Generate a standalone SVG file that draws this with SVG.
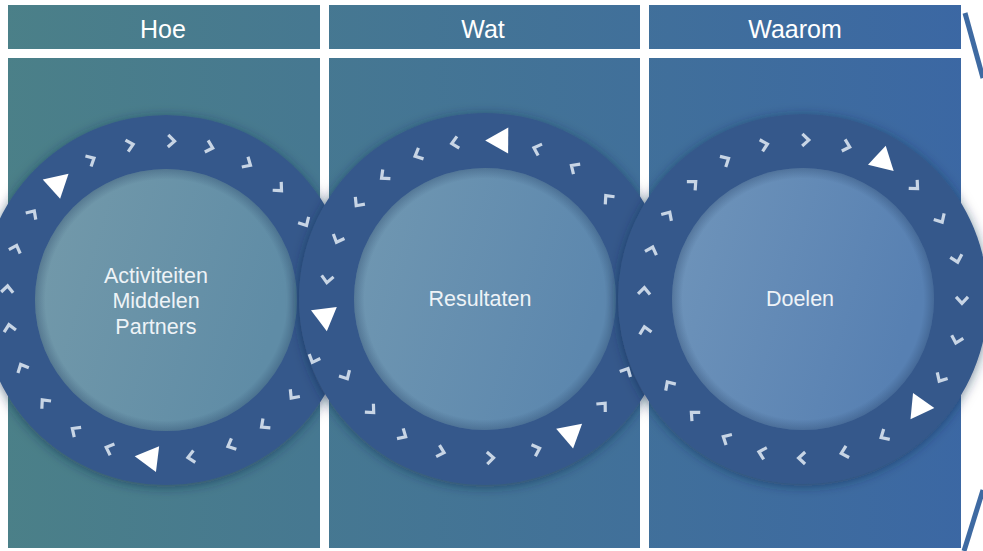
<svg xmlns="http://www.w3.org/2000/svg" xmlns:xlink="http://www.w3.org/1999/xlink" width="983" height="551" viewBox="0 0 983 551">
<defs>
<style>
.hdr{font-family:"Liberation Sans",Arial,sans-serif;font-size:25px;fill:#ffffff;text-anchor:middle}
.lbl{font-family:"Liberation Sans",Arial,sans-serif;font-size:21.5px;fill:#eef3f7;text-anchor:middle}
.ring{fill:#35598b;filter:url(#sh)}
.shade{fill:url(#inset)}
.br{stroke:#3e6aa2;stroke-width:5;fill:none}
</style>
<linearGradient id="bg" gradientUnits="userSpaceOnUse" x1="0" y1="0" x2="983" y2="0">
<stop offset="0" stop-color="#4b8088"/>
<stop offset="1" stop-color="#3b67a4"/>
</linearGradient>
<linearGradient id="c1" x1="0" y1="0" x2="1" y2="0.3">
<stop offset="0" stop-color="#749aaa"/>
<stop offset="1" stop-color="#5f8ca6"/>
</linearGradient>
<linearGradient id="c2" x1="0" y1="0" x2="1" y2="0.3">
<stop offset="0" stop-color="#7198b1"/>
<stop offset="1" stop-color="#5c87ae"/>
</linearGradient>
<linearGradient id="c3" x1="0" y1="0" x2="1" y2="0.3">
<stop offset="0" stop-color="#7095ba"/>
<stop offset="1" stop-color="#5780b2"/>
</linearGradient>
<radialGradient id="inset" cx="0.5" cy="0.5" r="0.5">
<stop offset="0.92" stop-color="#1c355a" stop-opacity="0"/>
<stop offset="1" stop-color="#1c355a" stop-opacity="0.3"/>
</radialGradient>
<filter id="sh" x="-20%" y="-20%" width="140%" height="140%">
<feDropShadow dx="0" dy="2" stdDeviation="6" flood-color="#162a48" flood-opacity="0.55"/>
</filter>
<path id="cv" d="M-3.5,-6 L3,0 L-3.5,6" fill="none" stroke="#c8d5e5" stroke-width="3.2"/>
<path id="tr" d="M12,0 L-11,-13 L-11,13 Z" fill="#ffffff"/>
</defs>
<rect width="983" height="551" fill="#ffffff"/>

<g id="col-hoe">
<rect x="8" y="5" width="312" height="44" fill="url(#bg)"/>
<rect x="8" y="58" width="312" height="490" fill="url(#bg)"/>
<text class="hdr" x="163" y="38">Hoe</text>
</g>
<g id="col-wat">
<rect x="329" y="5" width="311" height="44" fill="url(#bg)"/>
<rect x="329" y="58" width="311" height="490" fill="url(#bg)"/>
<text class="hdr" x="483" y="38">Wat</text>
</g>
<g id="col-waarom">
<rect x="649" y="5" width="312" height="44" fill="url(#bg)"/>
<rect x="649" y="58" width="312" height="490" fill="url(#bg)"/>
<text class="hdr" x="795" y="38">Waarom</text>
</g>

<g id="bracket">
<line class="br" x1="965" y1="13" x2="983" y2="78"/>
<line class="br" x1="964" y1="551" x2="983" y2="490"/>
</g>

<g id="ring-hoe">
<circle class="ring" cx="166" cy="300" r="185"/>
<circle cx="166" cy="300" r="131" fill="url(#c1)"/>
<circle class="shade" cx="166" cy="300" r="131"/>
</g>
<g id="ring-wat">
<circle class="ring" cx="485" cy="299" r="186"/>
<circle cx="485" cy="299" r="131" fill="url(#c2)"/>
<circle class="shade" cx="485" cy="299" r="131"/>
</g>
<g id="ring-waarom">
<circle class="ring" cx="803" cy="299" r="185"/>
<circle cx="803" cy="299" r="131" fill="url(#c3)"/>
<circle class="shade" cx="803" cy="299" r="131"/>
</g>

<g id="connectors">
<g id="arrows-hoe" transform="translate(166,300)">
<use xlink:href="#cv" transform="rotate(-118) translate(159) rotate(90)"/>
<use xlink:href="#cv" transform="rotate(-103) translate(159) rotate(90)"/>
<use xlink:href="#cv" transform="rotate(-88) translate(159) rotate(90)"/>
<use xlink:href="#cv" transform="rotate(-74) translate(159) rotate(90)"/>
<use xlink:href="#cv" transform="rotate(-59) translate(159) rotate(90)"/>
<use xlink:href="#cv" transform="rotate(-44.5) translate(159) rotate(90)"/>
<use xlink:href="#cv" transform="rotate(-29) translate(159) rotate(90)"/>
<use xlink:href="#cv" transform="rotate(22) translate(159) rotate(90)"/>
<use xlink:href="#cv" transform="rotate(37) translate(159) rotate(90)"/>
<use xlink:href="#cv" transform="rotate(52) translate(159) rotate(90)"/>
<use xlink:href="#cv" transform="rotate(66) translate(159) rotate(90)"/>
<use xlink:href="#cv" transform="rotate(81) translate(159) rotate(90)"/>
<use xlink:href="#tr" transform="rotate(97) translate(159) rotate(90)"/>
<use xlink:href="#cv" transform="rotate(111) translate(159) rotate(90)"/>
<use xlink:href="#cv" transform="rotate(125) translate(159) rotate(90)"/>
<use xlink:href="#cv" transform="rotate(140) translate(159) rotate(90)"/>
<use xlink:href="#cv" transform="rotate(155) translate(159) rotate(90)"/>
<use xlink:href="#cv" transform="rotate(170) translate(159) rotate(90)"/>
<use xlink:href="#cv" transform="rotate(184) translate(159) rotate(90)"/>
<use xlink:href="#cv" transform="rotate(199) translate(159) rotate(90)"/>
<use xlink:href="#cv" transform="rotate(213) translate(159) rotate(90)"/>
<use xlink:href="#tr" transform="rotate(228) translate(159) rotate(90)"/>
</g>
<g id="arrows-wat" transform="translate(485,299)">
<use xlink:href="#cv" transform="rotate(27) translate(159) rotate(-90)"/>
<use xlink:href="#cv" transform="rotate(42) translate(159) rotate(-90)"/>
<use xlink:href="#tr" transform="rotate(56.4) translate(159) rotate(-97)"/>
<use xlink:href="#cv" transform="rotate(71) translate(159) rotate(-90)"/>
<use xlink:href="#cv" transform="rotate(88) translate(159) rotate(-90)"/>
<use xlink:href="#cv" transform="rotate(106) translate(159) rotate(-90)"/>
<use xlink:href="#cv" transform="rotate(121) translate(159) rotate(-90)"/>
<use xlink:href="#cv" transform="rotate(135.5) translate(159) rotate(-90)"/>
<use xlink:href="#cv" transform="rotate(151) translate(159) rotate(-90)"/>
<use xlink:href="#tr" transform="rotate(172.7) translate(161) rotate(-90)"/>
<use xlink:href="#cv" transform="rotate(187) translate(159) rotate(-90)"/>
<use xlink:href="#cv" transform="rotate(202) translate(159) rotate(-90)"/>
<use xlink:href="#cv" transform="rotate(217) translate(159) rotate(-90)"/>
<use xlink:href="#cv" transform="rotate(230.5) translate(159) rotate(-90)"/>
<use xlink:href="#cv" transform="rotate(245) translate(159) rotate(-90)"/>
<use xlink:href="#cv" transform="rotate(259) translate(159) rotate(-90)"/>
<use xlink:href="#tr" transform="rotate(274.4) translate(159) rotate(-94)"/>
<use xlink:href="#cv" transform="rotate(289) translate(159) rotate(-90)"/>
<use xlink:href="#cv" transform="rotate(304) translate(159) rotate(-90)"/>
<use xlink:href="#cv" transform="rotate(320.5) translate(159) rotate(-90)"/>
</g>
<g id="arrows-waarom" transform="translate(803,299)">
<use xlink:href="#cv" transform="rotate(169) translate(161) rotate(90)"/>
<use xlink:href="#cv" transform="rotate(183) translate(159) rotate(90)"/>
<use xlink:href="#cv" transform="rotate(198) translate(159) rotate(90)"/>
<use xlink:href="#cv" transform="rotate(212) translate(159) rotate(90)"/>
<use xlink:href="#cv" transform="rotate(226.5) translate(159) rotate(90)"/>
<use xlink:href="#cv" transform="rotate(241) translate(159) rotate(90)"/>
<use xlink:href="#cv" transform="rotate(256) translate(159) rotate(90)"/>
<use xlink:href="#cv" transform="rotate(271) translate(159) rotate(90)"/>
<use xlink:href="#cv" transform="rotate(286) translate(159) rotate(90)"/>
<use xlink:href="#tr" transform="rotate(301) translate(159) rotate(102)"/>
<use xlink:href="#cv" transform="rotate(315) translate(159) rotate(90)"/>
<use xlink:href="#cv" transform="rotate(330) translate(159) rotate(90)"/>
<use xlink:href="#cv" transform="rotate(345.5) translate(159) rotate(90)"/>
<use xlink:href="#cv" transform="rotate(0.5) translate(159) rotate(90)"/>
<use xlink:href="#cv" transform="rotate(15) translate(159) rotate(90)"/>
<use xlink:href="#cv" transform="rotate(30) translate(159) rotate(90)"/>
<use xlink:href="#tr" transform="rotate(44) translate(159) rotate(81)"/>
<use xlink:href="#cv" transform="rotate(59.5) translate(159) rotate(90)"/>
<use xlink:href="#cv" transform="rotate(75) translate(159) rotate(90)"/>
<use xlink:href="#cv" transform="rotate(90.5) translate(159) rotate(90)"/>
<use xlink:href="#cv" transform="rotate(105) translate(159) rotate(90)"/>
<use xlink:href="#cv" transform="rotate(119) translate(159) rotate(90)"/>
<use xlink:href="#cv" transform="rotate(133.5) translate(159) rotate(90)"/>
<use xlink:href="#cv" transform="rotate(147.5) translate(159) rotate(90)"/>
</g>
</g>

<g id="labels">
<text class="lbl" x="156" y="283">Activiteiten</text>
<text class="lbl" x="156" y="308">Middelen</text>
<text class="lbl" x="156" y="334">Partners</text>
<text class="lbl" x="480" y="306">Resultaten</text>
<text class="lbl" x="800" y="306">Doelen</text>
</g>
</svg>
